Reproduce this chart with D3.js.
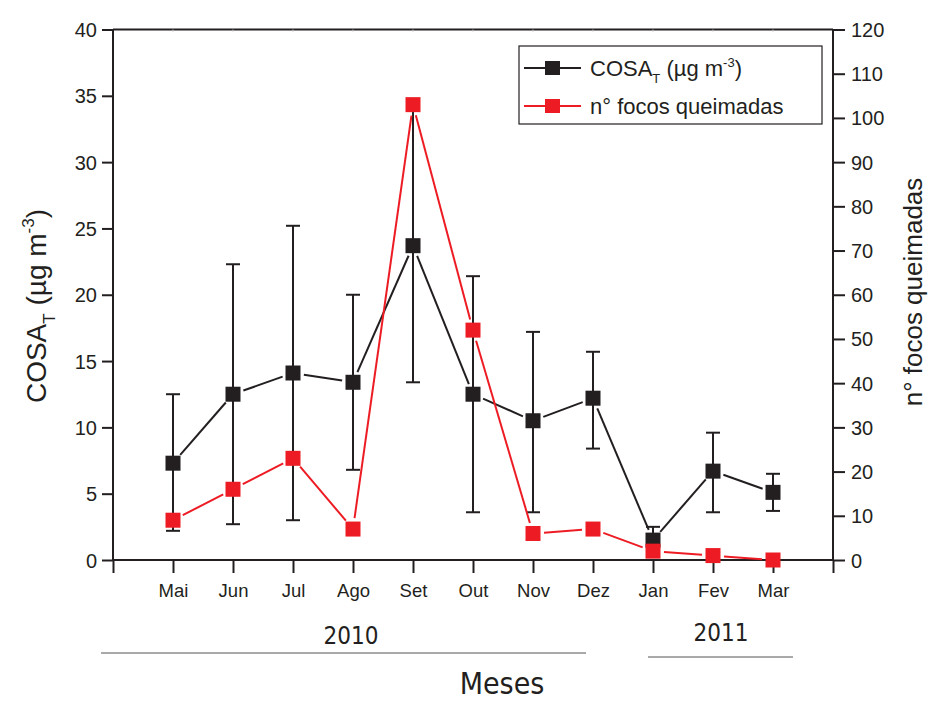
<!DOCTYPE html>
<html>
<head>
<meta charset="utf-8">
<script src="https://cdn.jsdelivr.net/npm/d3@7"></script>
<style>
  html, body { margin: 0; padding: 0; background: #fff; }
  svg { display: block; font-family: "Liberation Sans", Arial, sans-serif; }
</style>
</head>
<body>
<svg id="chart" width="933" height="702"></svg>
<script>
// Monthly COSA_T concentration and number of fire spots
const months = ["Mai", "Jun", "Jul", "Ago", "Set", "Out", "Nov", "Dez", "Jan", "Fev", "Mar"];
const cosa = [7.3, 12.5, 14.1, 13.4, 23.7, 12.5, 10.5, 12.2, 1.5, 6.7, 5.1];
const cosaHigh = [12.5, 22.3, 25.2, 20.0, 34.0, 21.4, 17.2, 15.7, 2.5, 9.6, 6.5];
const cosaLow = [2.2, 2.7, 3.0, 6.8, 13.4, 3.6, 3.6, 8.4, 0.5, 3.6, 3.7];
const focos = [9, 16, 23, 7, 103, 52, 6, 7, 2, 1, 0];
const leftTicks = [0, 5, 10, 15, 20, 25, 30, 35, 40];
const rightTicks = [0, 10, 20, 30, 40, 50, 60, 70, 80, 90, 100, 110, 120];

const INK = "#231f20";
const RED = "#ed1c24";

const svg = d3.select("#chart");
const L = 113, R = 833, T = 29.5, B = 560;

const x = d3.scaleLinear().domain([0, 12]).range([L, R]);
const yL = d3.scaleLinear().domain([0, 40]).range([B, T]);
const yR = d3.scaleLinear().domain([0, 120]).range([B, T]);

const idx = months.map((m, i) => i + 1);

// Frame: top line
svg.append("line").attr("x1", L).attr("x2", R).attr("y1", T).attr("y2", T)
  .attr("stroke", INK).attr("stroke-width", 2);

// Left axis
const gL = svg.append("g").attr("transform", `translate(${L},0)`)
  .call(d3.axisLeft(yL).tickValues(leftTicks).tickSize(11).tickPadding(5));
// Right axis
const gR = svg.append("g").attr("transform", `translate(${R},0)`)
  .call(d3.axisRight(yR).tickValues(rightTicks).tickSize(12).tickPadding(6));
// Bottom axis
const gB = svg.append("g").attr("transform", `translate(0,${B})`)
  .call(d3.axisBottom(x).tickValues(d3.range(0, 13)).tickSize(13).tickPadding(11)
    .tickFormat(d => (d >= 1 && d <= 11) ? months[d - 1] : ""));

[gL, gR, gB].forEach(g => {
  g.select(".domain").attr("stroke", INK).attr("stroke-width", 2);
  g.selectAll(".tick line").attr("stroke", INK).attr("stroke-width", 2);
  g.selectAll(".tick text").attr("fill", INK).attr("font-family", "Liberation Sans, Arial, sans-serif");
});
gL.selectAll(".tick text").attr("font-size", 20).attr("dy", "0.35em");
gR.selectAll(".tick text").attr("font-size", 20).attr("dy", "0.35em");
gB.selectAll(".tick text").attr("font-size", 18.5);
gL.select(".domain").attr("d", `M0,${B}V${T}`);
gR.select(".domain").attr("d", `M0,${B}V${T}`);
gB.select(".domain").attr("d", `M${L},0H${R}`);

// Small ticks on top edge at month positions
svg.append("g").selectAll("line").data(idx).join("line")
  .attr("x1", d => x(d)).attr("x2", d => x(d))
  .attr("y1", T).attr("y2", T + 2)
  .attr("stroke", "#bbb").attr("stroke-width", 1);

// Segments with a small gap before each marker
function gappedSegments(g, xs, ys, color, gap) {
  for (let i = 0; i < xs.length - 1; i++) {
    const x1 = xs[i], y1 = ys[i], x2 = xs[i + 1], y2 = ys[i + 1];
    const dx = x2 - x1, dy = y2 - y1, len = Math.hypot(dx, dy);
    if (len <= 2 * gap) continue;
    const ux = dx / len, uy = dy / len;
    g.append("line")
      .attr("x1", x1 + ux * gap).attr("y1", y1 + uy * gap)
      .attr("x2", x2 - ux * gap).attr("y2", y2 - uy * gap)
      .attr("stroke", color).attr("stroke-width", 2);
  }
}

// COSA error bars
const gErr = svg.append("g");
idx.forEach((d, i) => {
  const cx = x(d);
  gErr.append("line").attr("x1", cx).attr("x2", cx)
    .attr("y1", yL(cosaHigh[i])).attr("y2", yL(cosaLow[i]))
    .attr("stroke", INK).attr("stroke-width", 2);
  [cosaHigh[i], cosaLow[i]].forEach(v => {
    gErr.append("line").attr("x1", cx - 7).attr("x2", cx + 7)
      .attr("y1", yL(v)).attr("y2", yL(v))
      .attr("stroke", INK).attr("stroke-width", 2);
  });
});

// COSA line and markers
const gC = svg.append("g");
gappedSegments(gC, idx.map(x), cosa.map(yL), INK, 11);
const ms = 15;
gC.selectAll("rect").data(cosa).join("rect")
  .attr("x", (d, i) => x(idx[i]) - ms / 2).attr("y", d => yL(d) - ms / 2)
  .attr("width", ms).attr("height", ms).attr("fill", INK);

// Fire spots line and markers
const gF = svg.append("g");
gappedSegments(gF, idx.map(x), focos.map(yR), RED, 11);
gF.selectAll("rect").data(focos).join("rect")
  .attr("x", (d, i) => x(idx[i]) - ms / 2).attr("y", d => yR(d) - ms / 2)
  .attr("width", ms).attr("height", ms).attr("fill", RED);

// Legend
const lg = svg.append("g");
lg.append("rect").attr("x", 519).attr("y", 46).attr("width", 303).attr("height", 78)
  .attr("fill", "#fff").attr("stroke", INK).attr("stroke-width", 1.2);
const legendRows = [
  { color: INK, y: 68 },
  { color: RED, y: 106 }
];
legendRows.forEach(r => {
  lg.append("line").attr("x1", 524).attr("x2", 581).attr("y1", r.y).attr("y2", r.y)
    .attr("stroke", r.color).attr("stroke-width", 2);
  lg.append("rect").attr("x", 545).attr("y", r.y - 7).attr("width", 15).attr("height", 14)
    .attr("fill", r.color);
});
const t1 = lg.append("text").attr("x", 590).attr("y", 76).attr("font-size", 22).attr("fill", INK);
t1.append("tspan").text("COSA");
t1.append("tspan").attr("font-size", 13).attr("dy", 7).text("T");
t1.append("tspan").attr("dy", -7).text(" (\u00b5g m");
t1.append("tspan").attr("font-size", 13).attr("dy", -9).text("-3");
t1.append("tspan").attr("dy", 9).text(")");
lg.append("text").attr("x", 590).attr("y", 114).attr("font-size", 22).attr("fill", INK)
  .text("n\u00b0 focos queimadas");

// Left axis title
const ty = svg.append("text")
  .attr("transform", "translate(46,306) rotate(-90)")
  .attr("text-anchor", "middle").attr("font-size", 28).attr("fill", INK);
ty.append("tspan").text("COSA");
ty.append("tspan").attr("font-size", 17).attr("dy", 9).text("T");
ty.append("tspan").attr("dy", -9).text(" (\u00b5g m");
ty.append("tspan").attr("font-size", 17).attr("dy", -12).text("-3");
ty.append("tspan").attr("dy", 12).text(")");

// Right axis title
svg.append("text")
  .attr("transform", "translate(922,292) rotate(-90)")
  .attr("text-anchor", "middle").attr("font-size", 26).attr("fill", INK)
  .text("n\u00b0 focos queimadas");

// Year groups
const narrow = "'Liberation Sans Narrow', 'DejaVu Sans Condensed', Arial, sans-serif";
svg.append("text").attr("x", 351).attr("y", 644).attr("text-anchor", "middle")
  .attr("font-size", 24).attr("font-family", narrow).attr("fill", INK).text("2010");
svg.append("line").attr("x1", 101).attr("x2", 586).attr("y1", 653).attr("y2", 653)
  .attr("stroke", "#555").attr("stroke-width", 1);
svg.append("text").attr("x", 721).attr("y", 641).attr("text-anchor", "middle")
  .attr("font-size", 24).attr("font-family", narrow).attr("fill", INK).text("2011");
svg.append("line").attr("x1", 648).attr("x2", 793).attr("y1", 657).attr("y2", 657)
  .attr("stroke", "#555").attr("stroke-width", 1);

// X title
svg.append("text").attr("x", 502).attr("y", 694).attr("text-anchor", "middle")
  .attr("font-size", 30).attr("font-family", narrow).attr("fill", INK).text("Meses");
</script>
</body>
</html>
